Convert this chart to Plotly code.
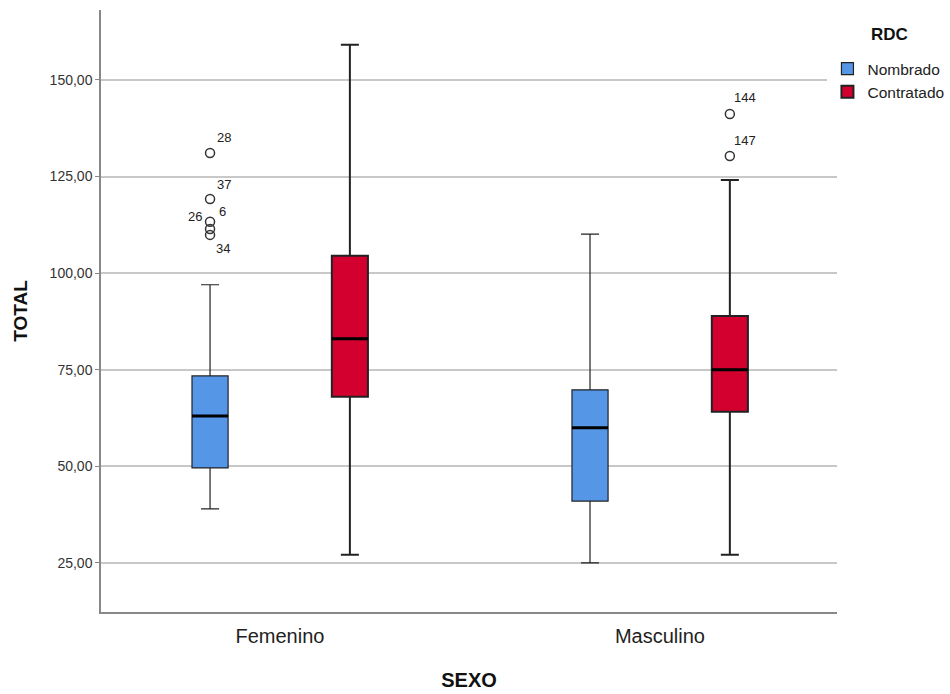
import plotly.graph_objects as go

categories = ["Femenino", "Masculino"]
groups = ["Nombrado", "Contratado"]

# box statistics per group: [Femenino, Masculino]
q1 = {"Nombrado": [49.6, 41.0], "Contratado": [68.0, 64.1]}
median = {"Nombrado": [63.0, 60.0], "Contratado": [83.0, 75.0]}
q3 = {"Nombrado": [73.4, 69.8], "Contratado": [104.5, 88.9]}
lowerfence = {"Nombrado": [39.0, 25.0], "Contratado": [27.1, 27.1]}
upperfence = {"Nombrado": [97.0, 110.1], "Contratado": [159.1, 124.1]}

# outliers: (category, group, value, case label)
out_cat = ["Femenino", "Femenino", "Femenino", "Femenino", "Femenino", "Masculino", "Masculino"]
out_grp = ["Nombrado", "Nombrado", "Nombrado", "Nombrado", "Nombrado", "Contratado", "Contratado"]
out_val = [131.1, 119.2, 113.3, 111.4, 109.9, 141.2, 130.3]
out_lab = ["28", "37", "6", "26", "34", "144", "147"]

y_ticks = [25, 50, 75, 100, 125, 150]

colors = {"Nombrado": "#5596E6", "Contratado": "#D3002F"}
offsets = {"Nombrado": -0.184, "Contratado": 0.184}
lw = {"Nombrado": 1.2, "Contratado": 2}
box_w = 0.095
label_shift = [(14, 15), (14, 14), (12, 10), (-15, 13), (13, -14), (15, 16), (15, 16)]

fig = go.Figure()
for g in groups:
    xs = [categories.index(c) + offsets[g] for c in categories]
    fig.add_trace(go.Box(
        name=g, x=xs, q1=q1[g], median=median[g], q3=q3[g],
        lowerfence=lowerfence[g], upperfence=upperfence[g],
        width=box_w, whiskerwidth=0.5, fillcolor=colors[g],
        line=dict(color="#222222", width=lw[g]), boxpoints=False,
        hoverinfo="skip"))
for g in groups:
    for i, c in enumerate(categories):
        x0 = i + offsets[g]
        fig.add_trace(go.Scatter(
            x=[x0 - box_w / 2, x0 + box_w / 2], y=[median[g][i], median[g][i]],
            mode="lines", line=dict(color="#000000", width=3), showlegend=False,
            hoverinfo="skip"))

ox = [categories.index(c) + offsets[g] for c, g in zip(out_cat, out_grp)]
fig.add_trace(go.Scatter(
    x=ox, y=out_val, mode="markers", showlegend=False,
    marker=dict(symbol="circle-open", size=9, color="#333333", line=dict(width=1.5)),
    hoverinfo="skip"))
for x, y, t, (dx, dy) in zip(ox, out_val, out_lab, label_shift):
    fig.add_annotation(x=x, y=y, text=t, showarrow=False, xshift=dx, yshift=dy,
                       font=dict(size=13, color="#222222", family="Liberation Sans, Arial"))

fig.add_annotation(xref="paper", yref="paper", x=(889 - 101) / 736, y=(612 - 34) / 602,
                   text="<b>RDC</b>", showarrow=False, xanchor="center", yanchor="middle",
                   font=dict(size=17, color="#111111"))

fig.update_layout(
    width=950, height=694,
    margin=dict(l=101, r=113, t=10, b=82, autoexpand=False),
    paper_bgcolor="white", plot_bgcolor="white",
    separators=",.",
    font=dict(family="Liberation Sans, Arial", color="#222222"),
    showlegend=True,
    legend=dict(xref="container", yref="container", x=0.871, xanchor="left",
                y=1 - 52 / 694, yanchor="top",
                font=dict(size=15.5, color="#222222"), tracegroupgap=0, itemwidth=30),
    xaxis=dict(range=[-0.471, 1.466], tickvals=[0, 1], ticktext=categories,
               showgrid=False, zeroline=False, showline=True, linecolor="#888888", linewidth=1.5,
               ticks="", tickfont=dict(size=20, color="#222222"), ticklabelstandoff=5,
               title=dict(text="<b>SEXO</b>", font=dict(size=20, color="#111111"), standoff=27)),
    yaxis=dict(range=[12.3, 168.1], tickvals=y_ticks, tickformat=".2f",
               showgrid=True, gridcolor="#c8c8c8", gridwidth=1.5, zeroline=False,
               showline=True, linecolor="#888888", linewidth=1.5,
               ticks="outside", ticklen=4, tickcolor="#888888",
               tickfont=dict(size=14, color="#333333"),
               title=dict(text="<b>TOTAL</b>", font=dict(size=19, color="#111111"), standoff=17)),
)

fig.write_html("out.html")
